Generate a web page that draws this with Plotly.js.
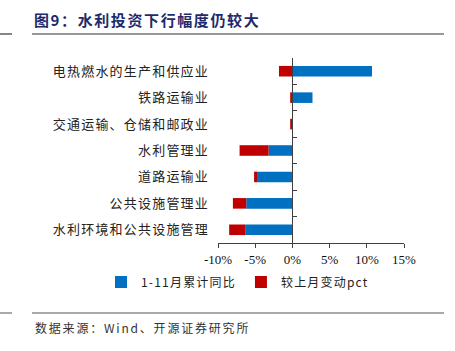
<!DOCTYPE html>
<html><head><meta charset="utf-8">
<script src="https://cdn.plot.ly/plotly-3.0.1.min.js"></script>
<style>
body{margin:0;background:#fff}#c{width:455px;height:351px}
.ytick text{letter-spacing:1.2px}
.gtitle{letter-spacing:1.6px}
.annotation-text{letter-spacing:1.8px}
.legendtext{letter-spacing:1.2px}
</style>
</head><body><div id="c"></div>
<script>
const categories = ['电热燃水的生产和供应业','铁路运输业','交通运输、仓储和邮政业','水利管理业','道路运输业','公共设施管理业','水利环境和公共设施管理'];
const cumulativeYoY = [10.7, 2.7, 0.0, -3.2, -4.75, -6.2, -6.35];
const monthChange = [-1.8, -0.3, -0.3, -3.9, -0.4, -1.8, -2.15];
const seriesNames = ['1-11月累计同比','较上月变动pct'];
const xTickVals = [-10,-5,0,5,10,15];
const xTickText = ['-10%','-5%','0%','5%','10%','15%'];

const serif = 'Liberation Serif, "Noto Sans CJK SC", serif';
const cjk = '"Noto Sans CJK SC", sans-serif';
const boundaries = categories.map((c,i)=>i-0.5).concat([categories.length-0.5]);

const traces = [
  {type:'bar', orientation:'h', y:categories, x:cumulativeYoY, name:seriesNames[0], marker:{color:'#0070C0'}},
  {type:'bar', orientation:'h', y:categories, x:monthChange, name:seriesNames[1], marker:{color:'#C00000'}},
  {type:'scatter', x:[0], y:[0], yaxis:'y2', mode:'markers', marker:{opacity:0}, showlegend:false, hoverinfo:'skip'}
];
const lineColor = '#404040';
const layout = {
  width:455, height:351,
  margin:{l:218, r:51, t:58, b:108},
  paper_bgcolor:'#fff', plot_bgcolor:'#fff',
  barmode:'relative', bargap:0.6,
  showlegend:true,
  font:{family:serif, size:12, color:'#222'},
  title:{text:'<b>图9：水利投资下行幅度仍较大</b>', x:34/455, xanchor:'left', y:1-21/351, yanchor:'middle',
         font:{family:cjk, size:15, color:'#1F2A6B'}},
  xaxis:{range:[-10,15], tickmode:'array', tickvals:xTickVals, ticktext:xTickText, showgrid:false, zeroline:false,
         showline:true, linecolor:lineColor, linewidth:1, ticks:'outside', ticklen:4, tickcolor:lineColor,
         tickfont:{family:serif, size:13, color:'#111'}, fixedrange:true},
  yaxis:{autorange:'reversed', type:'category', showgrid:false, showline:false, ticks:'', ticklabelstandoff:8,
         tickfont:{family:cjk, size:13, color:'#222'}},
  yaxis2:{overlaying:'y', anchor:'free', position:0.4, side:'left', range:[categories.length-0.5,-0.5],
          tickmode:'array', tickvals:boundaries, showticklabels:false, ticks:'inside', ticklen:4, tickcolor:lineColor,
          showline:true, linecolor:lineColor, linewidth:1, showgrid:false, zeroline:false},
  legend:{orientation:'h', x:(101-218)/186, xanchor:'left', y:(243-282)/185, yanchor:'middle',
          font:{family:cjk, size:12, color:'#222'}, bgcolor:'rgba(0,0,0,0)', itemwidth:30},
  shapes:[
    {type:'line', xref:'paper', yref:'paper', x0:(32-218)/186, x1:(444-218)/186, y0:(243-34)/185, y1:(243-34)/185, line:{color:'#333', width:1.2}},
    {type:'line', xref:'paper', yref:'paper', x0:(0-218)/186, x1:(12-218)/186, y0:(243-34)/185, y1:(243-34)/185, line:{color:'#333', width:1.2}},
    {type:'line', xref:'paper', yref:'paper', x0:(32-218)/186, x1:(444-218)/186, y0:(243-313)/185, y1:(243-313)/185, line:{color:'#555', width:1}},
    {type:'line', xref:'paper', yref:'paper', x0:(0-218)/186, x1:(12-218)/186, y0:(243-313)/185, y1:(243-313)/185, line:{color:'#555', width:1}}
  ],
  annotations:[
    {text:'数据来源：Wind、开源证券研究所', xref:'paper', yref:'paper', x:(33-218)/186, xanchor:'left', y:(243-327)/185, yanchor:'middle',
     showarrow:false, font:{family:cjk, size:12, color:'#333'}}
  ]
};
Plotly.newPlot('c', traces, layout, {displayModeBar:false, staticPlot:true});
</script></body></html>
